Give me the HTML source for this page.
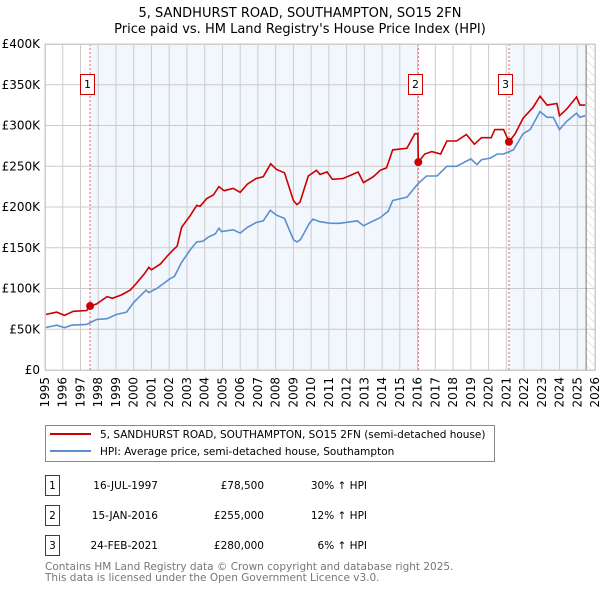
<!DOCTYPE html>
<html><head><meta charset="utf-8"><style>
body{margin:0;background:#fff;font-family:"DejaVu Sans","Liberation Sans",sans-serif;}
svg{display:block}
</style></head><body>
<svg id="c" width="600" height="590" xmlns="http://www.w3.org/2000/svg" font-family="DejaVu Sans, Liberation Sans, sans-serif">
<defs><pattern id="hatch" width="6" height="6" patternUnits="userSpaceOnUse" patternTransform="rotate(-45)"><line x1="0" y1="0" x2="0" y2="6" stroke="#ccc" stroke-width="1"/></pattern></defs>
<text x="300" y="17" text-anchor="middle" font-size="13">5, SANDHURST ROAD, SOUTHAMPTON, SO15 2FN</text>
<text x="300" y="33" text-anchor="middle" font-size="13">Price paid vs. HM Land Registry's House Price Index (HPI)</text>
<g id="plot"></g>
<g>
<rect x="45.5" y="425.5" width="449" height="36" fill="#fff" stroke="#888"/>
<line x1="50" y1="434" x2="91" y2="434" stroke="#cc0000" stroke-width="2"/>
<text x="100" y="438" font-size="10.5">5, SANDHURST ROAD, SOUTHAMPTON, SO15 2FN (semi-detached house)</text>
<line x1="50" y1="451" x2="91" y2="451" stroke="#5b8fd0" stroke-width="2"/>
<text x="100" y="455" font-size="10.5">HPI: Average price, semi-detached house, Southampton</text>
</g>
<g font-size="10.5">
<rect x="45.5" y="475.5" width="14" height="20" fill="none" stroke="#cc0000"/><text x="52.5" y="489" text-anchor="middle">1</text>
<text x="158" y="489" text-anchor="end">16-JUL-1997</text><text x="264" y="489" text-anchor="end">£78,500</text><text x="367" y="489" text-anchor="end">30% ↑ HPI</text>
<rect x="45.5" y="505.5" width="14" height="20" fill="none" stroke="#cc0000"/><text x="52.5" y="519" text-anchor="middle">2</text>
<text x="158" y="519" text-anchor="end">15-JAN-2016</text><text x="264" y="519" text-anchor="end">£255,000</text><text x="367" y="519" text-anchor="end">12% ↑ HPI</text>
<rect x="45.5" y="535.5" width="14" height="20" fill="none" stroke="#cc0000"/><text x="52.5" y="549" text-anchor="middle">3</text>
<text x="158" y="549" text-anchor="end">24-FEB-2021</text><text x="264" y="549" text-anchor="end">£280,000</text><text x="367" y="549" text-anchor="end">6% ↑ HPI</text>
</g>
<text x="45" y="570" font-size="10.5" fill="#777">Contains HM Land Registry data © Crown copyright and database right 2025.</text>
<text x="45" y="581" font-size="10.5" fill="#777">This data is licensed under the Open Government Licence v3.0.</text>
</svg>
<script>
const years=[1995,1996,1997,1998,1999,2000,2001,2002,2003,2004,2005,2006,2007,2008,2009,2010,2011,2012,2013,2014,2015,2016,2017,2018,2019,2020,2021,2022,2023,2024,2025,2026];
const yTicks=[0,50000,100000,150000,200000,250000,300000,350000,400000];
const yTickLabels=["£0","£50K","£100K","£150K","£200K","£250K","£300K","£350K","£400K"];
const hpiT=[1995.0,1995.66,1996.1,1996.5,1997.35,1997.9,1998.5,1999.0,1999.6,2000.0,2000.7,2000.85,2001.3,2002.05,2002.3,2002.7,2003.2,2003.55,2003.9,2004.2,2004.6,2004.8,2004.95,2005.6,2006.0,2006.4,2006.9,2007.3,2007.7,2008.05,2008.5,2009.0,2009.2,2009.4,2009.9,2010.1,2010.5,2011.1,2011.6,2012.6,2012.95,2013.9,2014.35,2014.6,2015.4,2016.0,2016.5,2017.1,2017.65,2018.2,2019.0,2019.35,2019.6,2020.1,2020.5,2020.85,2021.4,2021.95,2022.35,2022.9,2023.3,2023.65,2024.0,2024.4,2024.96,2025.15,2025.45];
const hpiV=[52,55,52,55,56,62,63,68,71,83,98,95,100,112,115,132,148,157,158,163,167,174,170,172,168,175,181,183,196,190,186,160,157,160,180,185,182,180,180,183,177,187,195,208,212,228,238,238,250,250,259,252,258,260,265,265,270,290,295,317,310,310,295,305,315,310,312];
const priceT=[1995.0,1995.66,1996.1,1996.6,1997.35,1997.54,1997.9,1998.5,1998.8,1999.3,1999.8,2000.1,2000.6,2000.85,2001.0,2001.5,2001.9,2002.25,2002.45,2002.7,2003.2,2003.55,2003.75,2004.1,2004.5,2004.8,2005.1,2005.6,2006.0,2006.4,2006.9,2007.3,2007.72,2008.05,2008.5,2009.0,2009.2,2009.37,2009.84,2010.3,2010.5,2010.9,2011.2,2011.8,2012.65,2012.95,2013.5,2013.9,2014.25,2014.6,2015.4,2015.85,2016.02,2016.04,2016.4,2016.8,2017.3,2017.65,2018.2,2018.75,2019.2,2019.6,2020.15,2020.35,2020.85,2021.15,2021.5,2021.95,2022.5,2022.9,2023.3,2023.85,2024.0,2024.4,2024.96,2025.15,2025.45];
const priceV=[68,71,67,72,73,78.5,81,90,88,92,98,105,118,126,123,130,140,148,152,175,190,202,201,210,215,225,220,223,218,228,235,237,253,246,242,208,203,206,238,245,240,243,234,235,243,230,237,245,248,270,272,290,290,255,265,268,265,281,281,289,277,285,285,295,295,280,290,309,322,336,325,327,312,320,335,325,325];
const sales=[{n:"1",t:1997.54,v:78500},{n:"2",t:2016.04,v:255000},{n:"3",t:2021.15,v:280000}];
const X0=45,X1=595,Y0=370,Y1=44,endT=2025.5;
const sx=t=>X0+(t-1995)/(2026-1995)*(X1-X0);
const sy=v=>Y0-v/400000*(Y0-Y1);
const NS="http://www.w3.org/2000/svg";
const g=document.getElementById('plot');
function mk(tag,attrs,parent){const e=document.createElementNS(NS,tag);for(const k in attrs)e.setAttribute(k,attrs[k]);(parent||g).appendChild(e);return e;}
let e;
e=mk('rect',{x:sx(sales[0].t),y:Y1,width:sx(sales[1].t)-sx(sales[0].t),height:Y0-Y1,fill:'#f2f6fd'});


e=mk('rect',{x:sx(sales[2].t),y:Y1,width:sx(endT)-sx(sales[2].t),height:Y0-Y1,fill:'#f2f6fd'});


e=mk('rect',{x:sx(endT),y:Y1,width:X1-sx(endT),height:Y0-Y1,fill:'url(#hatch)'});


years.forEach(y=>{
 e=mk('line',{x1:sx(y),x2:sx(y),y1:Y1,y2:Y0,stroke:'#ccc','stroke-width':1});
 
 
 e=mk('text',{x:0,y:0,'font-size':12,'text-anchor':'end',transform:`translate(${sx(y)+4},${Y0+7}) rotate(-90)`});
 e.textContent=y;
 
 
});
yTicks.forEach((v,i)=>{
 e=mk('line',{x1:X0,x2:X1,y1:sy(v),y2:sy(v),stroke:'#ccc','stroke-width':1});
 
 
 e=mk('text',{x:X0-5,y:sy(v)+4,'font-size':12,'text-anchor':'end'});
 e.textContent=yTickLabels[i];
 
 
});
e=mk('line',{x1:sx(endT),x2:sx(endT),y1:Y1,y2:Y0,stroke:'#777','stroke-width':1});


sales.forEach(s=>{
 e=mk('line',{x1:sx(s.t),x2:sx(s.t),y1:Y1,y2:Y0,stroke:'#e06666','stroke-width':1,'stroke-dasharray':'2,2'});
 
 
});
const path=(T,V)=>T.map((t,i)=>(i?'L':'M')+sx(t).toFixed(1)+','+sy(V[i]*1000).toFixed(1)).join('');
e=mk('path',{d:path(hpiT,hpiV),fill:'none',stroke:'#5b8fd0','stroke-width':1.6});


e=mk('path',{d:path(priceT,priceV),fill:'none',stroke:'#cc0000','stroke-width':1.6});


sales.forEach(s=>{
 e=mk('circle',{cx:sx(s.t),cy:sy(s.v),r:4,fill:'#cc0000'});
 
 
 const bx=Math.round(sx(s.t)-3.5);
 e=mk('rect',{x:bx-7+0.5,y:74.5,width:14,height:20,fill:'#fff',stroke:'#cc0000'});
 
 
 e=mk('text',{x:bx+0.5,y:88,'font-size':11,'text-anchor':'middle'});
 e.textContent=s.n;
 
 
});
e=mk('rect',{x:X0+0.5,y:Y1+0.5,width:X1-X0,height:Y0-Y1,fill:'none',stroke:'#ccc'});


</script>
</body></html>
